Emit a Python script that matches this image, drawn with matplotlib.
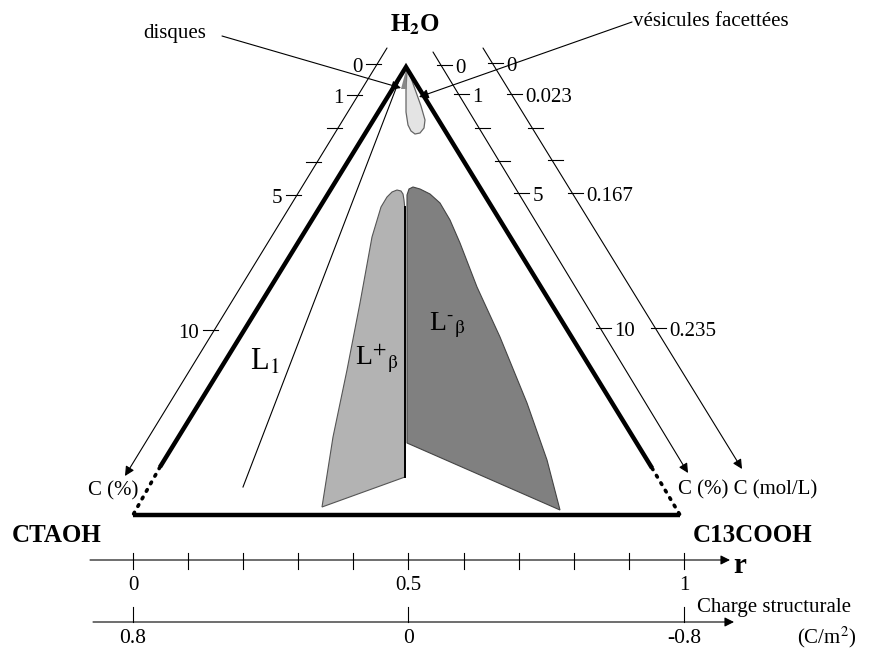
import matplotlib.pyplot as plt
import numpy as np

plt.rcParams['font.family'] = ['Liberation Serif', 'DejaVu Serif']
plt.rcParams['mathtext.fontset'] = 'stix'

# --- diagram data (drawing units, y grows downward) ---
apex = (406, 67)
left_v = (133, 515)
right_v = (680, 515)
left_solid_end = (160, 467)
right_solid_end = (652, 468)

# concentration axes: start point, arrow tip, tick heights and labels
cl_axis = [(387, 48), (125, 476)]
cl_ticks_y = [64, 95, 128, 162, 195, 330]
cl_labels = ['0', '1', '', '', '5', '10']

cr_axis = [(433, 52), (688, 473)]
cr_ticks_y = [65, 94, 128, 161, 193, 328]
cr_labels = ['0', '1', '', '', '5', '10']

mol_axis = [(483, 48), (742, 469)]
mol_ticks_y = [63, 94, 128, 160, 193, 328]
mol_labels = ['0', '0.023', '', '', '0.167', '0.235']

# r axis and structural charge axis
r_ticks = [0.0, 0.1, 0.2, 0.3, 0.4, 0.5, 0.6, 0.7, 0.8, 0.9, 1.0]
r_tick_labels = {0.0: '0', 0.5: '0.5', 1.0: '1'}
charge_r = [0.0, 0.5, 1.0]
charge_labels = ['0.8', '0', '-0.8']
r_x0, r_x1 = 133, 684

# phase region outlines
lplus_x = [322, 333, 347, 360, 372, 381, 387, 392, 397, 401, 403, 404, 405, 405]
lplus_y = [507, 437, 370, 303, 237, 207, 197, 192, 190, 191, 194, 200, 210, 477]
lminus_x = [407, 407, 409, 413, 420, 430, 440, 450, 460, 477, 500, 527, 547, 560]
lminus_y = [443, 195, 189, 187, 189, 194, 203, 220, 243, 287, 337, 403, 460, 510]
vesic_x = [407, 406, 406, 408, 411, 415, 420, 424, 425, 421, 416, 411]
vesic_y = [70, 90, 112, 125, 131, 134, 133, 128, 120, 106, 92, 78]
disq_x = [406, 401, 407]
disq_y = [70, 89, 89]
l1_boundary = [(400, 78), (243, 487)]


def r_to_x(r):
    return r_x0 + r * (r_x1 - r_x0)


def x_on_axis(axis, y):
    (x0, y0), (x1, y1) = axis
    return x0 + (x1 - x0) * (y - y0) / (y1 - y0)


fig = plt.figure(figsize=(8.79, 6.5), dpi=100)
ax = fig.add_axes([0, 0, 1, 1])
ax.set_xlim(0, 879)
ax.set_ylim(650, 0)
ax.axis('off')

arrow_kw = dict(arrowstyle='-|>', color='black', lw=0.8, mutation_scale=14,
                shrinkA=0, shrinkB=0)

# phase regions
ax.fill(lplus_x, lplus_y, facecolor='#b3b3b3', edgecolor='#555555', lw=0.8)
ax.fill(lminus_x, lminus_y, facecolor='#808080', edgecolor='#444444', lw=0.8)
ax.plot([405, 405], [207, 477], color='black', lw=1.4)
ax.fill(vesic_x, vesic_y, facecolor='#e4e4e4', edgecolor='#666666', lw=0.9)
ax.fill(disq_x, disq_y, facecolor='#888888', edgecolor='none')

# L1 boundary
ax.plot(*zip(*l1_boundary), color='black', lw=0.8)

# triangle
ax.plot([left_solid_end[0], apex[0], right_solid_end[0]],
        [left_solid_end[1], apex[1], right_solid_end[1]],
        color='black', lw=3.2, solid_capstyle='butt', solid_joinstyle='miter')
ax.plot([left_v[0], right_v[0]], [left_v[1], right_v[1]],
        color='black', lw=3.2, solid_capstyle='butt')
ax.plot([left_solid_end[0], left_v[0]], [left_solid_end[1], left_v[1]],
        color='black', lw=2.6, linestyle=(0, (0.5, 1.9)), dash_capstyle='round')
ax.plot([right_solid_end[0], right_v[0]], [right_solid_end[1], right_v[1]],
        color='black', lw=2.6, linestyle=(0, (0.5, 1.9)), dash_capstyle='round')

# concentration axes
for axis, ticks, labels, side in [(cl_axis, cl_ticks_y, cl_labels, -1),
                                  (cr_axis, cr_ticks_y, cr_labels, 1),
                                  (mol_axis, mol_ticks_y, mol_labels, 1)]:
    ax.annotate('', xy=axis[1], xytext=axis[0], arrowprops=arrow_kw)
    for ty, lab in zip(ticks, labels):
        xc = x_on_axis(axis, ty)
        if side < 0:
            ax.plot([xc - 11, xc + 4], [ty, ty], color='black', lw=0.8)
        else:
            ax.plot([xc - 4, xc + 11], [ty, ty], color='black', lw=0.8)
        if lab:
            if side < 0:
                ax.text(xc - 15, ty + 1, lab, ha='right', va='center_baseline', fontsize=15)
            else:
                ax.text(xc + 14, ty + 1, lab, ha='left', va='center_baseline', fontsize=15)

# r axis
ax.annotate('', xy=(730, 560), xytext=(90, 560), arrowprops=arrow_kw)
for r in r_ticks:
    ax.plot([r_to_x(r)] * 2, [553, 569], color='black', lw=0.8)
for r, lab in r_tick_labels.items():
    ax.text(r_to_x(r), 590, lab, ha='center', va='baseline', fontsize=15)
ax.text(733, 573, 'r', ha='left', va='baseline', fontsize=21, fontweight='bold')

# structural charge axis
ax.annotate('', xy=(734, 622), xytext=(93, 622), arrowprops=arrow_kw)
for r, lab in zip(charge_r, charge_labels):
    ax.plot([r_to_x(r)] * 2, [607, 622], color='black', lw=0.8)
    ax.text(r_to_x(r), 643, lab, ha='center', va='baseline', fontsize=15.5)
ax.text(697, 612, 'Charge structurale', ha='left', va='baseline', fontsize=15)
ax.text(856, 643, '(C/m$^2$)', ha='right', va='baseline', fontsize=15)

# vertex names
ax.text(415, 32, r'H$_\mathbf{2}$O', ha='center', va='baseline', fontsize=18, fontweight='bold')
ax.text(12, 542, 'CTAOH', ha='left', va='baseline', fontsize=18, fontweight='bold')
ax.text(693, 542, 'C13COOH', ha='left', va='baseline', fontsize=18, fontweight='bold')

# axis names
ax.text(88, 495, 'C (%)', ha='left', va='baseline', fontsize=15)
ax.text(678, 494, 'C (%) C (mol/L)', ha='left', va='baseline', fontsize=15)

# phase labels
ax.text(250, 370, 'L$_1$', ha='left', va='baseline', fontsize=22)
ax.text(355, 365, r'L$^{+}{}_{\mathrm{\beta}}$', ha='left', va='baseline', fontsize=20)
ax.text(429, 330, r'L$^{\text{-}}{}_{\mathrm{\beta}}$', ha='left', va='baseline', fontsize=20)

# annotations
ax.text(143, 38, 'disques', ha='left', va='baseline', fontsize=15)
ax.annotate('', xy=(401, 88), xytext=(222, 36), arrowprops=arrow_kw)
ax.text(633, 26, 'vésicules facettées', ha='left', va='baseline', fontsize=15)
ax.annotate('', xy=(419, 97), xytext=(632, 22), arrowprops=arrow_kw)

fig.savefig('out.png', dpi=100)
